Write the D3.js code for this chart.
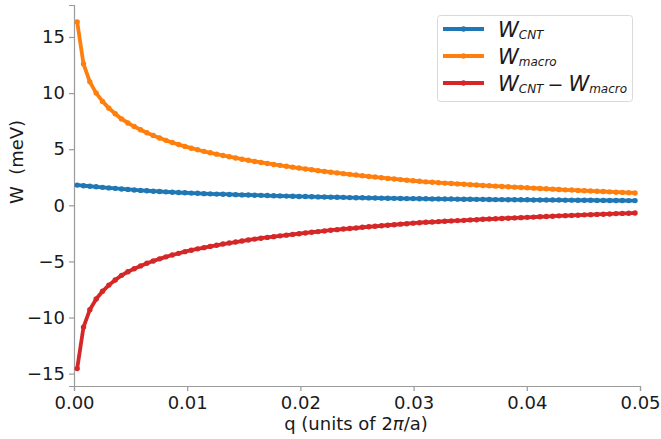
<!DOCTYPE html>
<html>
<head>
<meta charset="utf-8">
<script src="https://cdn.jsdelivr.net/npm/d3@7"></script>
<style>
	body { margin: 0; background: #fff; }
	svg { display: block; font-family: 'DejaVu Sans', sans-serif; }
</style>
</head>
<body>
<div class="main"></div>
<script>
//wave vector, units of 2pi/a
const qValues = [
	0.00028, 0.00084, 0.0014, 0.00196, 0.00252, 0.00308, 0.00364, 0.0042, 0.00476, 0.00532,
	0.00588, 0.00644, 0.007, 0.00756, 0.00812, 0.00868, 0.00924, 0.0098, 0.01036, 0.01092,
	0.01148, 0.01204, 0.0126, 0.01316, 0.01372, 0.01428, 0.01484, 0.0154, 0.01596, 0.01652,
	0.01708, 0.01764, 0.0182, 0.01876, 0.01932, 0.01988, 0.02044, 0.021, 0.02156, 0.02212,
	0.02268, 0.02324, 0.0238, 0.02436, 0.02492, 0.02548, 0.02604, 0.0266, 0.02716, 0.02772,
	0.02828, 0.02884, 0.0294, 0.02996, 0.03052, 0.03108, 0.03164, 0.0322, 0.03276, 0.03332,
	0.03388, 0.03444, 0.035, 0.03556, 0.03612, 0.03668, 0.03724, 0.0378, 0.03836, 0.03892,
	0.03948, 0.04004, 0.0406, 0.04116, 0.04172, 0.04228, 0.04284, 0.0434, 0.04396, 0.04452,
	0.04508, 0.04564, 0.0462, 0.04676, 0.04732, 0.04788, 0.04844, 0.049, 0.04956
];

//W_CNT (meV)
const wCnt = [
	1.80, 1.75, 1.70, 1.65, 1.60, 1.55, 1.51, 1.46, 1.42, 1.37,
	1.33, 1.30, 1.26, 1.23, 1.20, 1.17, 1.14, 1.12, 1.09, 1.07,
	1.04, 1.02, 1.00, 0.99, 0.97, 0.95, 0.93, 0.92, 0.90, 0.89,
	0.87, 0.85, 0.84, 0.82, 0.81, 0.79, 0.78, 0.77, 0.75, 0.74,
	0.73, 0.72, 0.71, 0.69, 0.68, 0.67, 0.66, 0.65, 0.64, 0.63,
	0.62, 0.61, 0.60, 0.60, 0.59, 0.58, 0.57, 0.57, 0.56, 0.56,
	0.55, 0.54, 0.54, 0.53, 0.53, 0.52, 0.51, 0.51, 0.50, 0.50,
	0.49, 0.49, 0.48, 0.48, 0.47, 0.47, 0.47, 0.46, 0.46, 0.45,
	0.45, 0.45, 0.44, 0.44, 0.43, 0.43, 0.43, 0.42, 0.42
];

//W_macro (meV)
const wMacro = [
	16.35, 12.60, 11.00, 10.00, 9.26, 8.66, 8.16, 7.70, 7.34, 7.02,
	6.73, 6.46, 6.22, 6.00, 5.79, 5.60, 5.42, 5.25, 5.09, 4.95,
	4.81, 4.68, 4.56, 4.44, 4.33, 4.22, 4.11, 4.01, 3.91, 3.82,
	3.73, 3.64, 3.56, 3.48, 3.40, 3.32, 3.24, 3.17, 3.09, 3.02,
	2.95, 2.89, 2.82, 2.76, 2.70, 2.63, 2.57, 2.52, 2.46, 2.40,
	2.35, 2.29, 2.24, 2.19, 2.14, 2.09, 2.06, 2.02, 1.98, 1.95,
	1.91, 1.88, 1.84, 1.81, 1.77, 1.74, 1.71, 1.68, 1.65, 1.62,
	1.59, 1.56, 1.53, 1.50, 1.47, 1.44, 1.41, 1.38, 1.36, 1.33,
	1.30, 1.28, 1.25, 1.23, 1.20, 1.17, 1.15, 1.13, 1.10
];

//W_CNT - W_macro (meV)
const wDiff = [
	-14.55, -10.85, -9.30, -8.35, -7.66, -7.11, -6.65, -6.24, -5.92, -5.65,
	-5.40, -5.16, -4.96, -4.77, -4.59, -4.43, -4.28, -4.13, -4.00, -3.88,
	-3.77, -3.66, -3.56, -3.45, -3.36, -3.27, -3.18, -3.09, -3.01, -2.93,
	-2.86, -2.79, -2.72, -2.66, -2.59, -2.53, -2.46, -2.40, -2.34, -2.28,
	-2.22, -2.17, -2.11, -2.07, -2.02, -1.96, -1.91, -1.87, -1.82, -1.77,
	-1.73, -1.68, -1.64, -1.59, -1.55, -1.51, -1.49, -1.45, -1.42, -1.39,
	-1.36, -1.34, -1.30, -1.28, -1.24, -1.22, -1.20, -1.17, -1.15, -1.12,
	-1.10, -1.07, -1.05, -1.02, -1.00, -0.97, -0.94, -0.92, -0.90, -0.88,
	-0.85, -0.83, -0.81, -0.79, -0.77, -0.74, -0.72, -0.71, -0.68
];

const xTicks = [0, 0.01, 0.02, 0.03, 0.04, 0.05];
const yTicks = [-15, -10, -5, 0, 5, 10, 15];

const seriesList = [
	{ values: wCnt, color: '#1f77b4', subs: ['CNT'] },
	{ values: wMacro, color: '#ff7f0e', subs: ['macro'] },
	{ values: wDiff, color: '#d62728', subs: ['CNT', 'macro'] }
];

const width = 661;
const height = 439;

const plot = d3.select('.main')
	.append('svg')
	.attr('width', width)
	.attr('height', height);

const x = d3.scaleLinear()
	.domain([0, 0.05])
	.range([74, 640]);

const y = d3.scaleLinear()
	.domain([-16.1, 17.85])
	.range([386, 5]);

//axes, only left and bottom spines
plot.append('g')
	.attr('transform', 'translate(0,' + y(-16.1) + ')')
	.call(d3.axisBottom(x).tickValues(xTicks).tickFormat(d3.format('.2f')).tickSizeOuter(0).tickSize(5).tickPadding(5));

plot.append('g')
	.attr('transform', 'translate(' + x(0) + ',0)')
	.call(d3.axisLeft(y).tickValues(yTicks).tickSizeOuter(0).tickSize(5).tickPadding(4));

plot.selectAll('.domain, .tick line')
	.style('stroke', '#9a9a9a')
	.style('stroke-width', '1.2px');

plot.selectAll('.tick text')
	.style('font-family', "'DejaVu Sans', sans-serif")
	.style('font-size', '18px')
	.style('fill', '#1a1a1a');

//axis titles
const xTitle = plot.append('text')
	.attr('x', 356)
	.attr('y', 430)
	.attr('text-anchor', 'middle')
	.style('font-size', '18px')
	.style('fill', '#1a1a1a');
xTitle.append('tspan').text('q (units of 2');
xTitle.append('tspan').style('font-style', 'italic').text('\u03C0');
xTitle.append('tspan').text('/a)');

plot.append('text')
	.attr('transform', 'translate(23,162) rotate(-90)')
	.attr('text-anchor', 'middle')
	.style('font-size', '18px')
	.style('fill', '#1a1a1a')
	.style('white-space', 'pre')
	.text('W  (meV)');

//curves with small dot markers
const line = d3.line()
	.x((d, i) => x(qValues[i]))
	.y(d => y(d));

seriesList.forEach(function(s){
	const g = plot.append('g');
	g.append('path')
		.datum(s.values)
		.attr('d', line)
		.style('fill', 'none')
		.style('stroke', s.color)
		.style('stroke-width', '3.8px')
		.style('stroke-linejoin', 'round');
	g.selectAll('circle')
		.data(s.values)
		.enter()
		.append('circle')
		.attr('cx', (d, i) => x(qValues[i]))
		.attr('cy', d => y(d))
		.attr('r', 2.7)
		.style('fill', s.color);
});

//legend
const legend = plot.append('g');

legend.append('rect')
	.attr('x', 437.5)
	.attr('y', 15.5)
	.attr('width', 195)
	.attr('height', 86)
	.attr('rx', 3)
	.style('fill', '#fff')
	.style('stroke', '#d9d9d9')
	.style('stroke-width', '1px');

const rowY = [29, 56, 83];

seriesList.forEach(function(s, i){
	legend.append('line')
		.attr('x1', 443)
		.attr('x2', 484)
		.attr('y1', rowY[i])
		.attr('y2', rowY[i])
		.style('stroke', s.color)
		.style('stroke-width', '3.8px');
	legend.append('circle')
		.attr('cx', 463.5)
		.attr('cy', rowY[i])
		.attr('r', 2.7)
		.style('fill', s.color);

	const t = legend.append('text')
		.attr('x', 498)
		.attr('y', rowY[i] + 8)
		.style('font-style', 'italic')
		.style('fill', '#1a1a1a');

	s.subs.forEach(function(sub, k){
		if(k > 0){
			t.append('tspan')
				.attr('dx', 4)
				.attr('dy', -2)
				.style('font-style', 'normal')
				.style('font-size', '19px')
				.text('\u2212');
		}
		t.append('tspan')
			.attr('dx', k > 0 ? 5 : null)
			.attr('dy', k > 0 ? 0 : null)
			.style('font-size', '21px')
			.text('W');
		t.append('tspan')
			.attr('dy', 2)
			.style('font-size', '12px')
			.text(sub);
	});
});
</script>
</body>
</html>
